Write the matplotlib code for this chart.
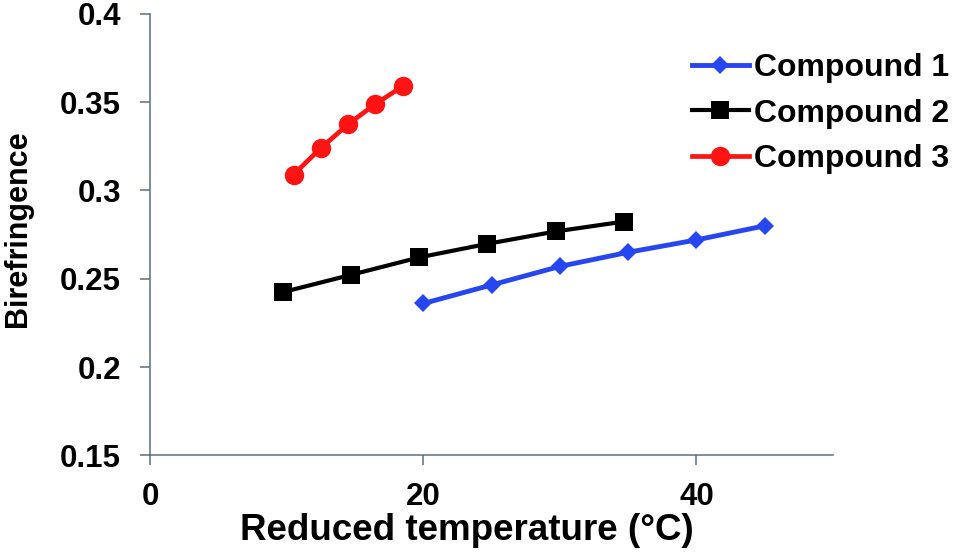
import matplotlib
matplotlib.use("Agg")
import matplotlib.pyplot as plt
from matplotlib.ticker import FormatStrFormatter

plt.rcParams["font.family"] = ["Liberation Sans", "DejaVu Sans"]
plt.rcParams["font.weight"] = "bold"

# Compound 1
x1 = [20, 25, 30, 35, 40, 45]
y1 = [0.236, 0.2465, 0.257, 0.265, 0.272, 0.280]
# Compound 2
x2 = [9.7, 14.7, 19.7, 24.7, 29.7, 34.7]
y2 = [0.2424, 0.2522, 0.2621, 0.2698, 0.2768, 0.2824]
# Compound 3
x3 = [10.5, 12.5, 14.5, 16.5, 18.5]
y3 = [0.309, 0.324, 0.3375, 0.349, 0.359]

labels = ["Compound 1", "Compound 2", "Compound 3"]
xticks = [0, 20, 40]
yticks = [0.15, 0.2, 0.25, 0.3, 0.35, 0.4]

axis_col = "#5b6f7f"

fig = plt.figure(figsize=(9.62, 5.54), dpi=100)
ax = fig.add_axes([0.156, 0.178, 0.710, 0.797])

ax.plot(x1, y1, color="#2646f0", lw=3.5, marker="D", ms=9.5, mew=0, label=labels[0])
ax.plot(x2, y2, color="black", lw=3.0, marker="s", ms=13.5, mew=0, label=labels[1])
ax.plot(x3, y3, color="#ff1414", lw=3.4, marker="o", ms=14, mew=0, label=labels[2])

ax.set_xlim(0, 50)
ax.set_ylim(0.15, 0.4)
ax.set_xticks(xticks)
ax.set_yticks(yticks)
ax.yaxis.set_major_formatter(FormatStrFormatter("%g"))

for s in ["top", "right"]:
    ax.spines[s].set_visible(False)
for s in ["left", "bottom"]:
    ax.spines[s].set_color(axis_col)
    ax.spines[s].set_linewidth(1.1)

ax.tick_params(axis="both", direction="out", length=7, width=1.1, color=axis_col,
               labelsize=22.5)
ax.tick_params(axis="x", pad=12)
ax.tick_params(axis="y", pad=14)
for t in ax.get_xticklabels() + ax.get_yticklabels():
    t.set_fontweight("bold")

ax.set_xlabel("Reduced temperature (°C)", fontsize=26.5, fontweight="bold")
ax.xaxis.set_label_coords(0.464, -0.131)
ax.set_ylabel("Birefringence", fontsize=22, fontweight="bold")
ax.yaxis.set_label_coords(-0.171, 0.513)

ax.legend(loc="upper left", bbox_to_anchor=(691.7 / 962, 0.9043),
          bbox_transform=fig.transFigure, frameon=False,
          prop={"weight": "bold", "size": 23}, handlelength=1.8,
          handletextpad=0.15, labelspacing=0.49, borderpad=0, borderaxespad=0)

fig.savefig("out.png", dpi=100)
